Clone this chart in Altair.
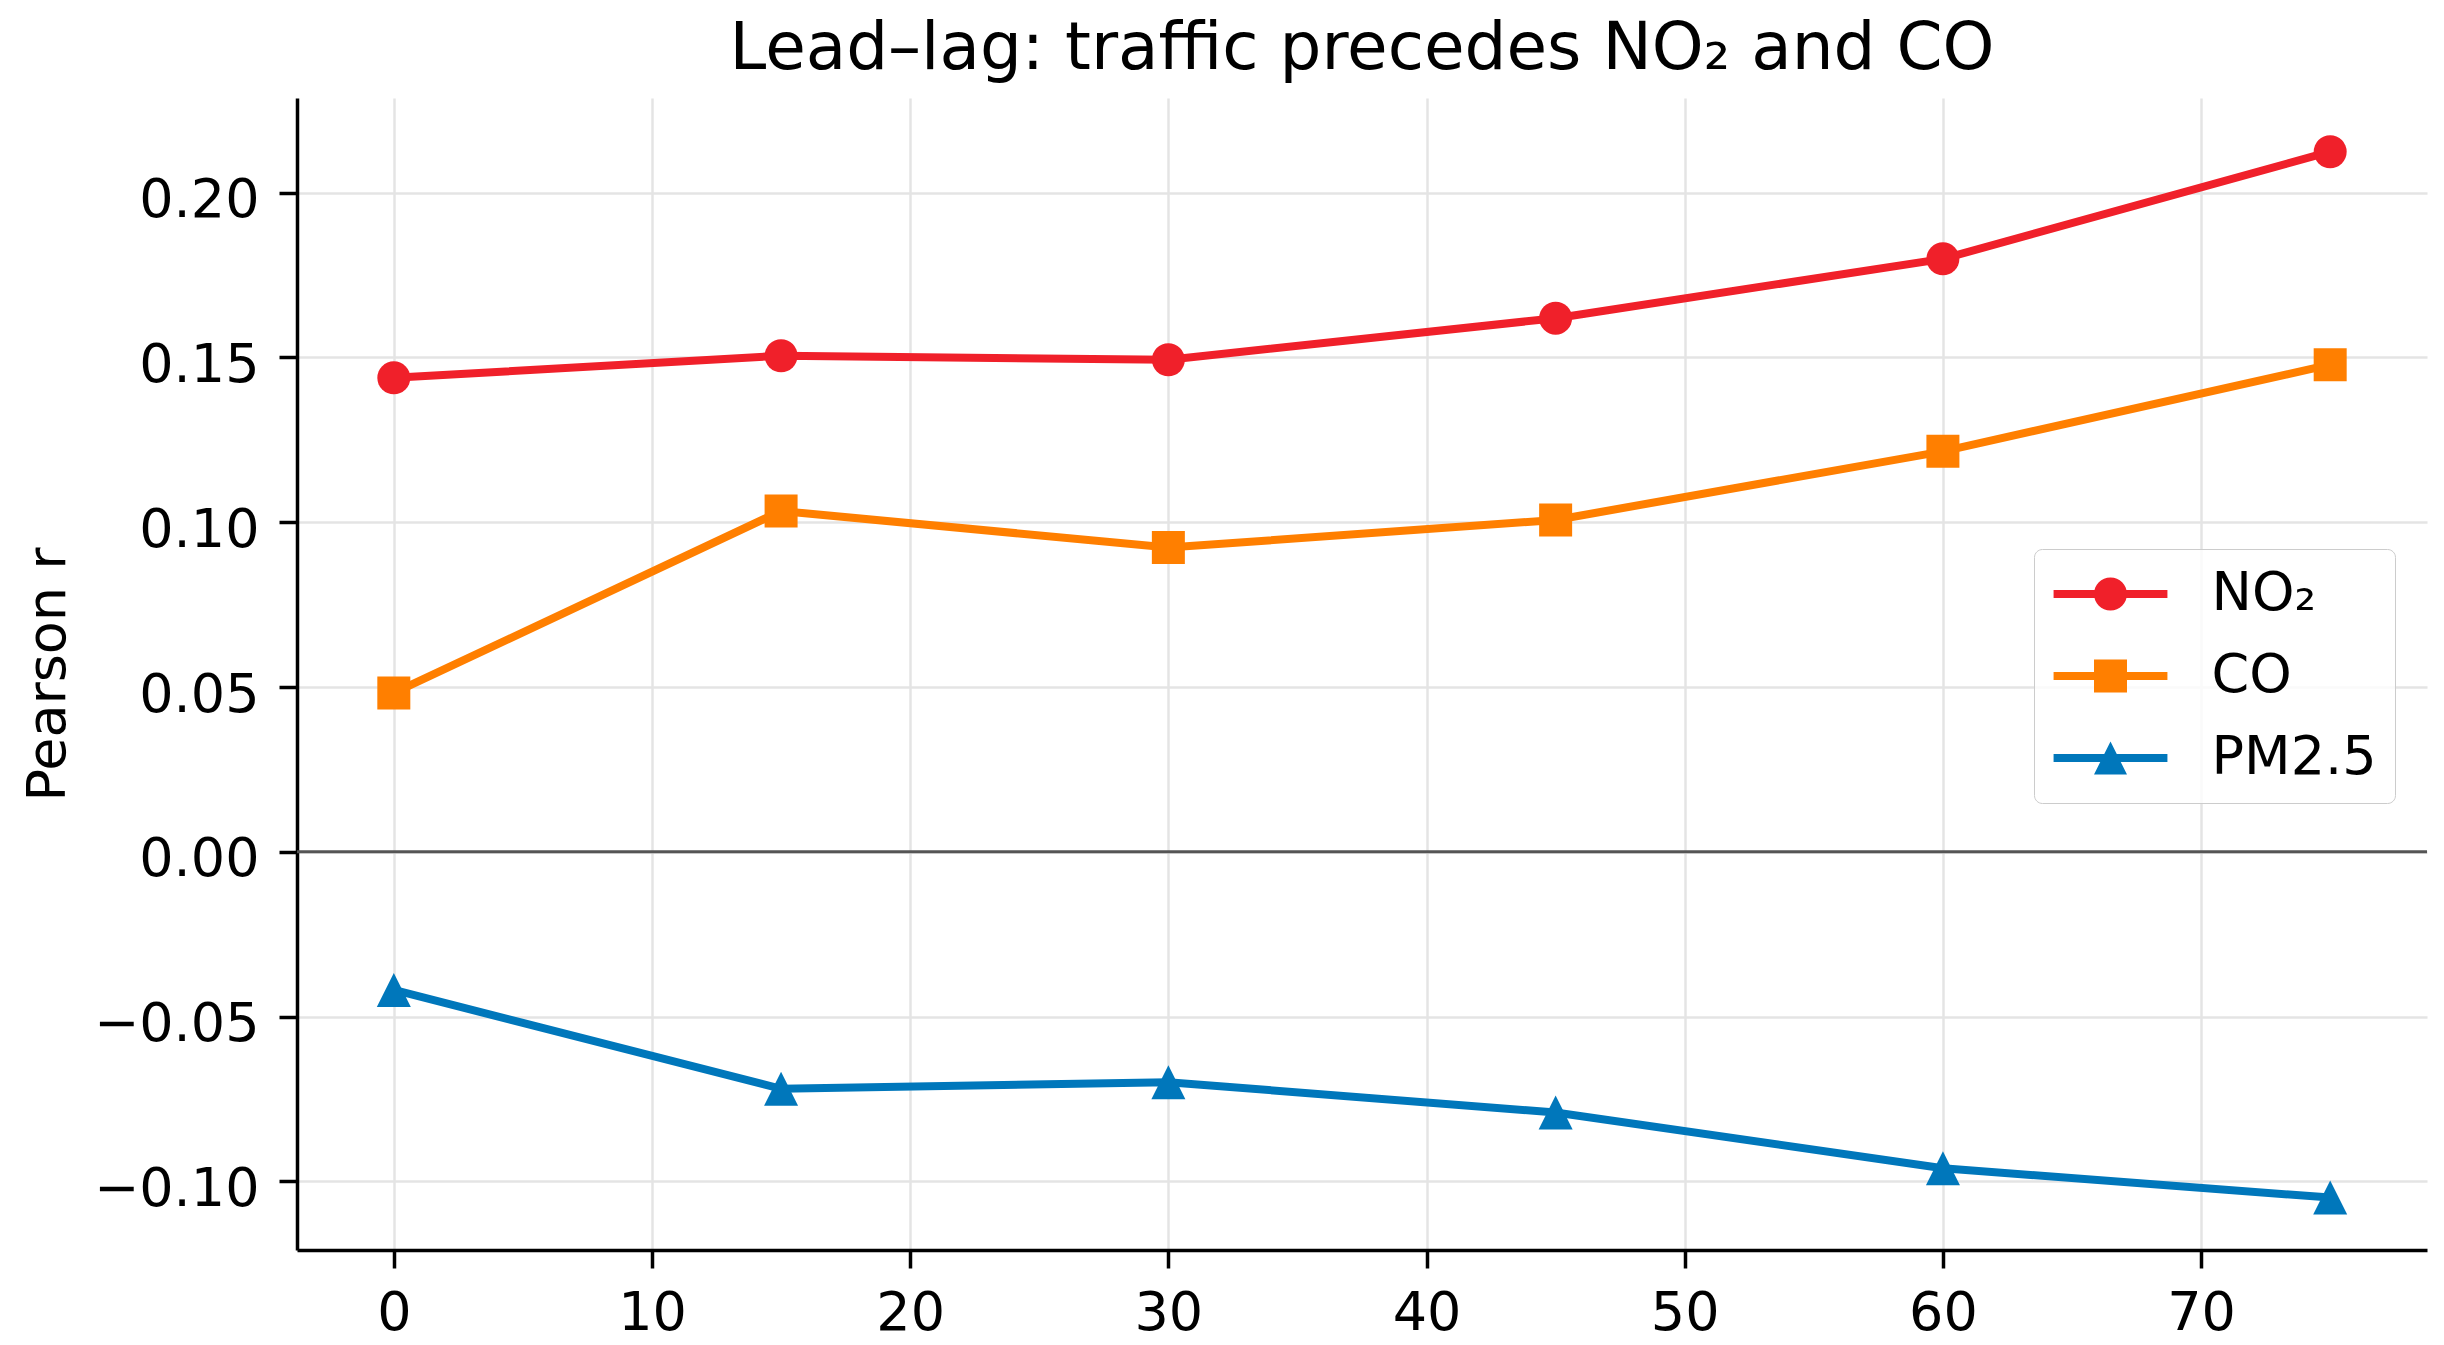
import altair as alt
import pandas as pd

# ---- data ----
lags = [0, 15, 30, 45, 60, 75]
series_names = ["NO₂", "CO", "PM2.5"]
no2 = [0.1438, 0.1505, 0.1493, 0.1619, 0.1799, 0.2124]
co = [0.0482, 0.1034, 0.0923, 0.1007, 0.1215, 0.1478]
pm25 = [-0.0419, -0.0719, -0.0699, -0.0791, -0.0960, -0.1049]
colors = ["#f0202a", "#ff7f00", "#0077bb"]
x_ticks = [0, 10, 20, 30, 40, 50, 60, 70]
y_ticks = [-0.10, -0.05, 0.0, 0.05, 0.10, 0.15, 0.20]
title_text = "Lead–lag: traffic precedes NO₂ and CO"
y_title = "Pearson r"

rows = []
for name, vals in zip(series_names, [no2, co, pm25]):
    for lag, v in zip(lags, vals):
        rows.append({"lag": lag, "r": v, "series": name})
df = pd.DataFrame(rows)
zero_df = pd.DataFrame({"r": [0.0]})

FONT = "DejaVu Sans"
W, H = 2130, 1152
FS = 54

x_enc = alt.X(
    "lag:Q",
    scale=alt.Scale(domain=[-3.75, 78.75], nice=False, zero=False),
    axis=alt.Axis(title=None, values=x_ticks, format="d", labelPadding=18,
                  labelFlush=False, labelOverlap=False),
)
y_enc = alt.Y(
    "r:Q",
    scale=alt.Scale(domain=[-0.1208, 0.2287], nice=False, zero=False),
    axis=alt.Axis(title=y_title, values=y_ticks, format=".2f", labelPadding=20,
                  labelOffset=8, labelFlush=False, labelOverlap=False,
                  titleBaseline="alphabetic", titlePadding=33),
)

# marker shapes for the data points
point_shapes = ["circle", "square", "M0,-1L1,1L-1,1Z"]
point_sizes = [1089, 1089, 1156]

# legend symbols: line segment with the marker in the middle
L = 3.45
T = 0.24
seg = f"M{-L},{-T}L{L},{-T}L{L},{T}L{-L},{T}Z"
legend_paths = [
    seg + " M1,0A1,1 0 1,1 -1,0A1,1 0 1,1 1,0Z",
    seg + " M-1,-1L1,-1L1,1L-1,1Z",
    seg + " M0,-1L1,1L-1,1Z",
]

def make_legend():
    return alt.Legend(
        title=None, orient="none", legendX=1737, legendY=451,
        symbolSize=1089, symbolOffset=31.5, symbolStrokeWidth=0, symbolOpacity=1,
        labelOffset=74, labelFontSize=FS, labelFont=FONT, labelColor="black",
        labelLimit=600, rowPadding=28, padding=18,
        strokeColor="#cccccc", fillColor="rgba(255,255,255,0.8)", cornerRadius=8,
    )

# legend-only layer (no rows drawn; entries come from the explicit scale domains)
legend_layer = alt.Chart(df).transform_filter("false").mark_point(
    filled=True, opacity=1, size=1089, strokeWidth=0
).encode(
    x=x_enc, y=y_enc,
    color=alt.Color("series:N", scale=alt.Scale(domain=series_names, range=colors), legend=make_legend()),
    shape=alt.Shape("series:N", scale=alt.Scale(domain=series_names, range=legend_paths), legend=make_legend()),
)

zero_rule = alt.Chart(zero_df).mark_rule(color="#555555", strokeWidth=3).encode(y=alt.Y("r:Q"))

layers = [legend_layer, zero_rule]
for name, c, shp, sz in zip(series_names, colors, point_shapes, point_sizes):
    base = alt.Chart(df).transform_filter(alt.datum.series == name)
    layers.append(base.mark_line(color=c, strokeWidth=8).encode(x=x_enc, y=y_enc))
    layers.append(base.mark_point(filled=True, shape=shp, size=sz, color=c, opacity=1, strokeWidth=0)
                  .encode(x=x_enc, y=y_enc))

chart = alt.layer(*layers).properties(
    width=W, height=H,
    title=alt.Title(title_text, fontSize=66, font=FONT, fontWeight="normal", color="black",
                    anchor="middle", frame="group", baseline="alphabetic", offset=16, dy=53),
    autosize=alt.AutoSizeParams(type="none"),
    padding={"left": 289, "top": 90, "right": 9, "bottom": 87},
).configure_view(stroke=None).configure_axis(
    domainColor="black", domainWidth=3.5, tickColor="black", tickWidth=3.5, tickSize=18,
    labelFontSize=FS, labelFont=FONT, labelColor="black",
    gridColor="#e4e4e4", gridWidth=2.5,
    titleFont=FONT, titleFontSize=FS, titleFontWeight="normal", titleColor="black",
)

chart.save("out.html", embed_options={"renderer": "svg", "actions": False})
